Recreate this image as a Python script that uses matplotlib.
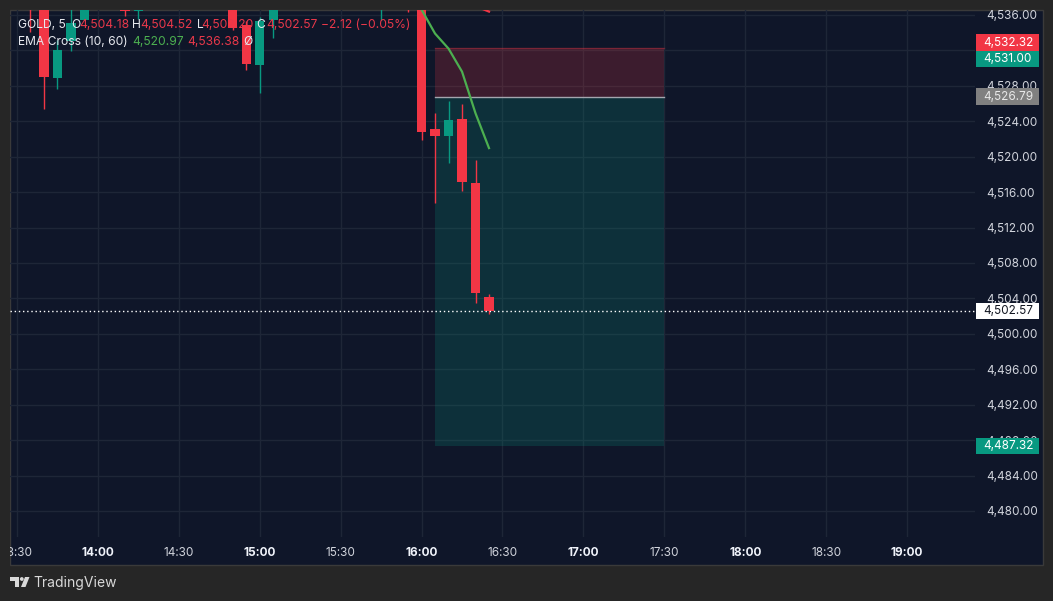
import matplotlib
matplotlib.use('Agg')
import matplotlib.pyplot as plt
from matplotlib.patches import Rectangle, Circle, Polygon
from matplotlib.transforms import blended_transform_factory

plt.rcParams['font.family'] = ['Inter', 'DejaVu Sans']

# ---------------- data ----------------
times  = ['13:35', '13:40', '13:45', '13:50', '13:55', '14:10', '14:15', '14:50', '14:55',
          '15:00', '15:05', '15:45', '15:55', '16:00', '16:05', '16:10', '16:15', '16:20', '16:25']
opens  = [4540.0, 4539.5, 4528.87, 4533.08, 4535.45, 4539.0, 4536.40, 4538.0, 4534.88,
          4530.37, 4535.45, 4537.0, 4540.0, 4539.0, 4523.15, 4522.39, 4524.28, 4517.05, 4504.18]
highs  = [4541.0, 4540.0, 4533.19, 4537.50, 4539.00, 4540.0, 4540.00, 4539.0, 4535.30,
          4535.82, 4538.50, 4539.5, 4541.0, 4539.5, 4524.92, 4526.31, 4525.93, 4519.65, 4504.52]
lows   = [4534.13, 4525.37, 4527.63, 4531.95, 4535.45, 4535.90, 4535.56, 4534.30, 4529.77,
          4527.24, 4533.38, 4535.45, 4536.30, 4521.83, 4514.76, 4519.34, 4516.18, 4503.43, 4502.20]
closes = [4537.2, 4528.94, 4532.06, 4535.08, 4538.50, 4536.45, 4539.00, 4534.50, 4530.45,
          4535.33, 4538.00, 4539.0, 4537.0, 4522.84, 4522.39, 4524.16, 4517.09, 4504.56, 4502.57]

ema10_times = ['16:00', '16:05', '16:10', '16:15', '16:20', '16:25']
ema10 = [4536.6, 4533.9, 4532.2, 4529.6, 4524.9, 4520.97]
ema60_times = ['16:20', '16:25']
ema60 = [4537.0, 4536.38]

price_ticks = [4480, 4484, 4488, 4492, 4496, 4500, 4504, 4508, 4512, 4516, 4520, 4524, 4528, 4532, 4536]
time_ticks = ['13:30', '14:00', '14:30', '15:00', '15:30', '16:00', '16:30', '17:00',
              '17:30', '18:00', '18:30', '19:00']

pos_start, pos_end = '16:05', '17:30'
entry_price = 4526.79
stop_price = 4532.32
target_price = 4487.32
last_price = 4502.57
marker_price = 4531.00

# ---------------- style ----------------
OUTER = '#262626'
PANEL = '#0F1629'
GRID = '#1E2637'
RED = '#F23645'
GREEN = '#089981'
TXT = '#D1D4DC'

def tmin(s):
    h, m = s.split(':')
    return int(h) * 60 + int(m)

W, H = 1053, 601
fig = plt.figure(figsize=(W / 100, H / 100), dpi=100, facecolor=OUTER)

bg = fig.add_axes([0, 0, 1, 1], zorder=0)
bg.set_xlim(0, W); bg.set_ylim(H, 0); bg.axis('off')
bg.add_patch(Rectangle((10, 10), 1033, 555, facecolor=PANEL, edgecolor='#3A3A3A', lw=1))

ax = fig.add_axes([10 / W, (H - 537) / H, 965 / W, 527 / H], zorder=5)
ax.set_facecolor('none')
for s in ax.spines.values():
    s.set_visible(False)
ax.set_xlim(807.4, 1165.2)
ax.set_ylim(4477.06, 4536.56)
ax.set_axisbelow(True)

ax.set_yticks(price_ticks, [f'{p:,.2f}' for p in price_ticks])
ax.yaxis.tick_right()
ax.tick_params(axis='y', length=0, pad=8, labelsize=8.5, labelcolor=TXT)
ax.set_xticks([tmin(t) for t in time_ticks], time_ticks)
ax.tick_params(axis='x', length=0, pad=7, labelsize=8.5, labelcolor=TXT)
for lbl in ax.get_xticklabels():
    if lbl.get_text().endswith(':00'):
        lbl.set_fontweight('bold')
        lbl.set_color('#F0F3FA')
ax.grid(True, color=GRID, lw=1)

# position zones
x0, x1 = tmin(pos_start), tmin(pos_end)
ax.add_patch(Rectangle((x0, entry_price), x1 - x0, stop_price - entry_price,
                       facecolor=RED, alpha=0.2, edgecolor='none', zorder=1))
ax.plot([x0, x1], [stop_price, stop_price], color=RED, alpha=0.35, lw=1, zorder=1.2)
ax.add_patch(Rectangle((x0, target_price), x1 - x0, entry_price - target_price,
                       facecolor=GREEN, alpha=0.2, edgecolor='none', zorder=1))
ax.plot([x0, x1], [entry_price, entry_price], color='#A3A6AF', lw=1, zorder=1.5)

# candles
bw = 3.45
for t, o, h, l, c in zip(times, opens, highs, lows, closes):
    x = tmin(t)
    col = GREEN if c >= o else RED
    ax.vlines(x, l, h, color=col, lw=1, zorder=3)
    ax.bar(x, abs(c - o), bottom=min(o, c), width=bw, color=col, zorder=3.2)

# EMAs
ax.plot([tmin(t) for t in ema10_times], ema10, color='#4CAF50', lw=1.6, zorder=4)
ax.plot([tmin(t) for t in ema60_times], ema60, color=RED, lw=1.6, zorder=4)

# last price dotted line
ax.axhline(last_price, color='white', lw=1, ls=(0, (1, 2)), zorder=4.5)

# price labels on the axis
trans = blended_transform_factory(ax.transAxes, ax.transData)
px_per = 527 / (4536.56 - 4477.06)
box_h = 16.5 / px_per
bx0 = (976 - 10) / 965
bx1 = (1039 - 10) / 965
tx = (983 - 10) / 965
stop_y = max(stop_price, marker_price + box_h)
labels = [
    (stop_price, stop_y, RED, 'white'),
    (marker_price, marker_price, GREEN, 'white'),
    (entry_price, entry_price, '#808080', '#E8E8E8'),
    (last_price, last_price, 'white', '#131722'),
    (target_price, target_price, GREEN, 'white'),
]
for val, y, fc, tc in labels:
    ax.add_patch(Rectangle((bx0, y - box_h / 2), bx1 - bx0, box_h, transform=trans,
                           facecolor=fc, edgecolor='none', clip_on=False, zorder=8))
    ax.text(tx, y, f'{val:,.2f}', transform=trans, ha='left', va='center',
            fontsize=8.5, color=tc, clip_on=False, zorder=9)

# overlay: header, mask, logo
ov = fig.add_axes([0, 0, 1, 1], zorder=10)
ov.set_xlim(0, W); ov.set_ylim(H, 0); ov.axis('off'); ov.set_facecolor('none')
ov.add_patch(Rectangle((0, 0), 9.5, H, facecolor=OUTER, edgecolor='none'))

HRED = '#E8384A'
HW = '#E6E8EE'
fs = 8.7
row1 = [(18, 'GOLD, 5', HW), (71, 'O', HW), (79.3, '4,504.18', HRED), (132.3, 'H', HW),
        (140, '4,504.52', HRED), (196.7, 'L', HW), (201.7, '4,502.20', HRED), (256.7, 'C', HW),
        (266.7, '4,502.57', HRED), (321, '\u22122.12 (\u22120.05%)', HRED)]
for x, s, c in row1:
    ov.text(x, 25, s, ha='left', va='center', fontsize=fs, color=c)
row2 = [(18, 'EMA Cross (10, 60)', HW), (132.7, '4,520.97', '#4CAF50'),
        (187.7, '4,536.38', HRED), (243.3, '\u00d8', HW)]
for x, s, c in row2:
    ov.text(x, 42, s, ha='left', va='center', fontsize=fs, color=c)

# TradingView logo
LC = '#D9D9D9'
ov.add_patch(Rectangle((10, 577), 9, 3.5, facecolor=LC, edgecolor='none'))
ov.add_patch(Rectangle((14.5, 577), 4, 10, facecolor=LC, edgecolor='none'))
ov.add_patch(Circle((21.8, 579), 1.9, facecolor=LC, edgecolor='none'))
ov.add_patch(Polygon([(25, 577), (29.5, 577), (25.5, 587), (21, 587)], closed=True,
                     facecolor=LC, edgecolor='none'))
ov.text(33, 582.5, 'TradingView', ha='left', va='center', fontsize=10, color=LC)

fig.savefig('out.png', dpi=100, facecolor=OUTER)
